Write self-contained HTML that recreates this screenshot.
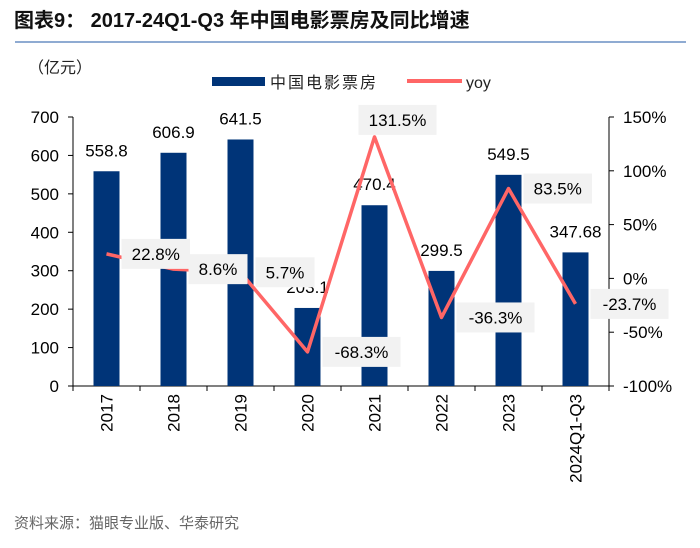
<!DOCTYPE html>
<html><head><meta charset="utf-8">
<style>
body{margin:0;background:#fff;width:700px;height:543px;overflow:hidden;font-family:"Liberation Sans","Noto Sans CJK SC",sans-serif;}
svg text{font-family:"Liberation Sans","Noto Sans CJK SC",sans-serif;}
</style></head><body>
<svg width="700" height="543">
<text x="14" y="27" font-size="20" font-weight="bold" fill="#111">图表9：  2017-24Q1-Q3 年中国电影票房及同比增速</text>
<line x1="15" y1="42" x2="686" y2="42" stroke="#6a8fc4" stroke-width="1.5"/>
<text x="28" y="73" font-size="16" fill="#222">（亿元）</text>
<rect x="212" y="77" width="53" height="9" fill="#003478"/>
<text x="270" y="88" font-size="16" fill="#222" letter-spacing="2">中国电影票房</text>
<line x1="407" y1="81" x2="462" y2="81" stroke="#ff6666" stroke-width="4"/>
<text x="466" y="88" font-size="16" fill="#222">yoy</text>
<g id="plot"></g>
<text x="14" y="528" font-size="15" fill="#666">资料来源：猫眼专业版、华泰研究</text>
</svg>
<script>
const categories=["2017","2018","2019","2020","2021","2022","2023","2024Q1-Q3"];
const boxOffice=[558.8,606.9,641.5,203.1,470.4,299.5,549.5,347.68];
const boxOfficeLabels=["558.8","606.9","641.5","203.1","470.4","299.5","549.5","347.68"];
const yoy=[22.8,8.6,5.7,-68.3,131.5,-36.3,83.5,-23.7];
const yoyLabels=["22.8%","8.6%","5.7%","-68.3%","131.5%","-36.3%","83.5%","-23.7%"];
const leftTicks=[0,100,200,300,400,500,600,700];
const rightTicks=[-100,-50,0,50,100,150];
const rightTickLabels=["-100%","-50%","0%","50%","100%","150%"];

const NS="http://www.w3.org/2000/svg";
const g=document.getElementById('plot');
const X0=73,X1=609,YB=386,YT=117;
const yL=v=>YB-(v/700)*(YB-YT);
const yR=v=>YB-((v+100)/250)*(YB-YT);
const bw=(X1-X0)/categories.length;
const xc=i=>X0+bw*(i+0.5);
function el(t,a){const e=document.createElementNS(NS,t);for(const k in a)e.setAttribute(k,a[k]);g.appendChild(e);return e;}
let e=el('line',{x1:X0,y1:YT,x2:X0,y2:YB,stroke:'#000'});


e=el('line',{x1:X1,y1:YT,x2:X1,y2:YB,stroke:'#000'});


e=el('line',{x1:X0,y1:YB,x2:X1,y2:YB,stroke:'#000'});


leftTicks.forEach(v=>{
  el('line',{x1:X0-5,y1:yL(v),x2:X0,y2:yL(v),stroke:'#000'});
  const t=el('text',{x:X0-14,y:yL(v)+6,'font-size':17,'text-anchor':'end',fill:'#000'});t.textContent=v;
  
  
});
rightTicks.forEach((v,i)=>{
  el('line',{x1:X1,y1:yR(v),x2:X1+5,y2:yR(v),stroke:'#000'});
  const t=el('text',{x:X1+14,y:yR(v)+6,'font-size':17,fill:'#000'});t.textContent=rightTickLabels[i];
  
  
});
for(let i=0;i<=categories.length;i++)el('line',{x1:X0+bw*i,y1:YB,x2:X0+bw*i,y2:YB+5,stroke:'#000'});
categories.forEach((c,i)=>{
  const t=el('text',{x:0,y:0,'font-size':17,'text-anchor':'end',fill:'#000',transform:`translate(${xc(i)+6},394) rotate(-90)`});t.textContent=c;
  
  
});
boxOffice.forEach((v,i)=>{
  const r=el('rect',{x:xc(i)-13,y:yL(v),width:26,height:YB-yL(v),fill:'#003478'});
  
  
  const t=el('text',{x:xc(i),y:yL(v)-15,'font-size':17,'text-anchor':'middle',fill:'#000'});t.textContent=boxOfficeLabels[i];
  
  
});
const pts=yoy.map((v,i)=>xc(i)+','+yR(v)).join(' ');
e=el('polyline',{points:pts,fill:'none',stroke:'#ff6666','stroke-width':3.5,'stroke-linejoin':'round'});


yoy.forEach((v,i)=>{
  const w=yoyLabels[i].length*9.5+21;
  const px=xc(i), py=yR(v);
  let lx=px+15, cy=py;
  if(v>100){lx=px-16; cy=py-17;}
  const b=el('rect',{x:lx,y:cy-15,width:w,height:30,fill:'#f2f2f2'});
  
  
  const t=el('text',{x:lx+w/2,y:cy+6,'font-size':17,'text-anchor':'middle',fill:'#000'});t.textContent=yoyLabels[i];
  
  
});
</script>
</body></html>
